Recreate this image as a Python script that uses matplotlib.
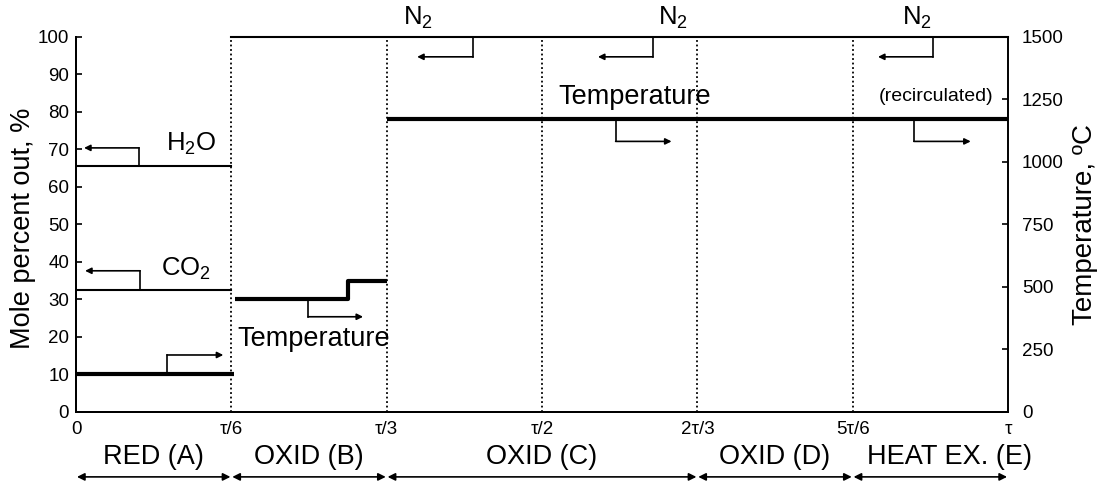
import matplotlib
matplotlib.use("Agg")
import matplotlib.pyplot as plt
from matplotlib.transforms import blended_transform_factory

plt.rcParams['font.family'] = ['Liberation Sans', 'DejaVu Sans']
plt.rcParams['mathtext.fontset'] = 'custom'
plt.rcParams['mathtext.rm'] = 'Liberation Sans'
plt.rcParams['mathtext.it'] = 'Liberation Sans'

# ---- data ----
x_ticks = [0, 1/6, 1/3, 1/2, 2/3, 5/6, 1]
x_tick_labels = ['0', 'τ/6', 'τ/3', 'τ/2', '2τ/3', '5τ/6', 'τ']
boundaries = [1/6, 1/3, 1/2, 2/3, 5/6]

h2o_x = [0, 1/6]
h2o_y = [65.5, 65.5]
co2_x = [0, 1/6]
co2_y = [32.5, 32.5]
n2_x = [1/6, 1]
n2_y = [100, 100]

tempA_x = [0, 0.17]
tempA_y = [150, 150]
tempB_x = [0.171, 7/24, 7/24, 1/3]
tempB_y = [450, 450, 525, 525]
tempC_x = [1/3, 1]
tempC_y = [1170, 1170]

phase_labels = ['RED (A)', 'OXID (B)', 'OXID (C)', 'OXID (D)', 'HEAT EX. (E)']
phase_edges = [(0, 1/6), (1/6, 1/3), (1/3, 2/3), (2/3, 5/6), (5/6, 1)]
phase_label_x = [1/12, 1/4, 1/2, 3/4, 0.937]

left_ticks = list(range(0, 101, 10))
right_ticks = [0, 250, 500, 750, 1000, 1250, 1500]

# ---- figure ----
fig = plt.figure(figsize=(11.02, 4.84), dpi=100)
ax = fig.add_axes([0.069, 0.1494, 0.8457, 0.7742])
ax2 = ax.twinx()

ax.set_xlim(0, 1)
ax.set_ylim(0, 100)
ax2.set_ylim(0, 1500)

for a in (ax, ax2):
    a.spines['top'].set_visible(False)
    for s in a.spines.values():
        s.set_linewidth(1.4)
ax.spines['right'].set_visible(False)

ax.set_xticks(x_ticks)
ax.set_xticklabels(x_tick_labels)
ax.tick_params(axis='x', length=0, pad=7, labelsize=13.5)
ax.set_yticks(left_ticks)
ax.tick_params(axis='y', direction='in', length=4, width=1.2, pad=5, labelsize=13.5)
ax2.set_yticks(right_ticks)
ax2.tick_params(axis='y', direction='in', length=4, width=1.2, pad=10, labelsize=13.5)

ax.set_ylabel('Mole percent out, %', fontsize=19.5)
ax.yaxis.set_label_coords(-0.043, 0.49)
ax2.set_ylabel('Temperature, ºC', fontsize=20)
ax2.yaxis.set_label_coords(1.0687, 0.5)

# dotted boundaries
for b in boundaries:
    ax.axvline(b, color='black', linestyle=(0, (1, 1.5)), lw=1.3)

thin = 1.5
thick = 3.0
ax.plot(h2o_x, h2o_y, color='black', lw=thin)
ax.plot(co2_x, co2_y, color='black', lw=thin)
ax.plot(n2_x, n2_y, color='black', lw=thin, clip_on=False)
ax2.plot(tempA_x, tempA_y, color='black', lw=thick, clip_on=False, solid_capstyle='butt')
ax2.plot(tempB_x, tempB_y, color='black', lw=thick, clip_on=False, solid_capstyle='butt')
ax2.plot(tempC_x, tempC_y, color='black', lw=thick, clip_on=False, solid_capstyle='butt')

def bracket(axis, x0, y0, y1, x1):
    axis.plot([x0, x0], [y0, y1], color='black', lw=1.2, clip_on=False)
    axis.annotate('', xy=(x1, y1), xytext=(x0, y1),
                  arrowprops=dict(arrowstyle='-|>', color='black', lw=1.2,
                                  mutation_scale=9, shrinkA=0, shrinkB=0),
                  annotation_clip=False)

# left-axis brackets
bracket(ax, 0.0676, 65.5, 70.4, 0.0086)
bracket(ax, 0.0687, 32.5, 37.6, 0.0097)
bracket(ax, 0.426, 100, 94.7, 0.366)
bracket(ax, 0.619, 100, 94.7, 0.560)
bracket(ax, 0.9195, 100, 94.7, 0.8605)
# right-axis brackets
bracket(ax2, 0.0976, 150, 227, 0.158)
bracket(ax2, 0.249, 450, 380, 0.308)
bracket(ax2, 0.579, 1170, 1082, 0.639)
bracket(ax2, 0.899, 1170, 1082, 0.960)

ax.text(0.123, 71.5, 'H$_2$O', fontsize=18.5, ha='center', va='center')
ax.text(0.118, 38.0, 'CO$_2$', fontsize=18.5, ha='center', va='center')
for nx in (0.367, 0.641, 0.902):
    ax.text(nx, 105.0, 'N$_2$', fontsize=18.5, ha='center', va='center', clip_on=False)
ax.text(0.255, 19.3, 'Temperature', fontsize=19.5, ha='center', va='center')
ax2.text(0.599, 1258, 'Temperature', fontsize=19.5, ha='center', va='center')
ax2.text(0.923, 1262, '(recirculated)', fontsize=14, ha='center', va='center')

# phase labels and double arrows
trans = blended_transform_factory(ax.transData, ax.transAxes)
for lab, lx in zip(phase_labels, phase_label_x):
    ax.text(lx, -0.121, lab, fontsize=19.5, ha='center', va='center', transform=trans, clip_on=False)
for (a0, a1) in phase_edges:
    ax.annotate('', xy=(a0 + 0.001, -0.174), xytext=(a1 - 0.001, -0.174),
                xycoords=trans, textcoords=trans,
                arrowprops=dict(arrowstyle='<|-|>', color='black', lw=1.2,
                                mutation_scale=11, shrinkA=0, shrinkB=0),
                annotation_clip=False)

fig.savefig('out.png', dpi=100)
